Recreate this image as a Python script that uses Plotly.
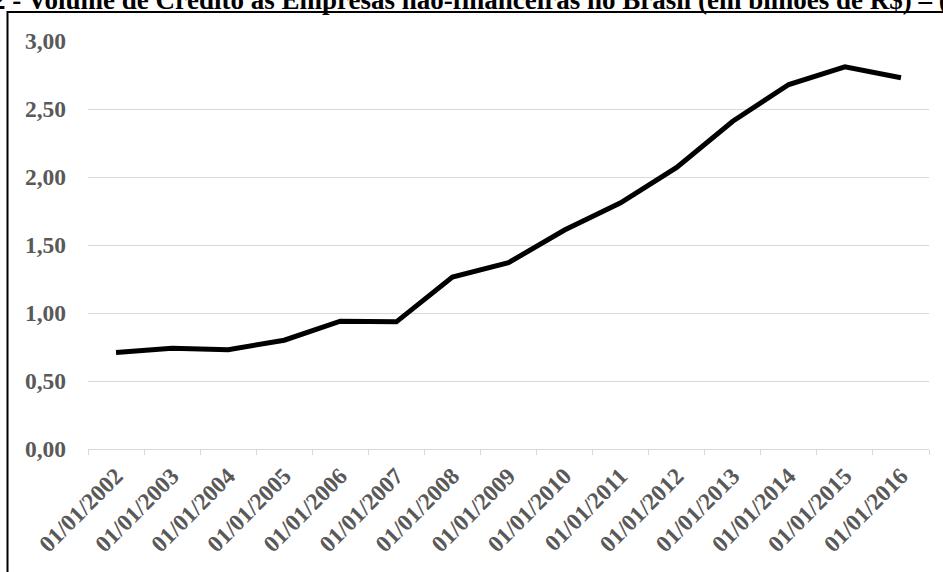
import plotly.graph_objects as go

categories = ["01/01/2002", "01/01/2003", "01/01/2004", "01/01/2005", "01/01/2006",
              "01/01/2007", "01/01/2008", "01/01/2009", "01/01/2010", "01/01/2011",
              "01/01/2012", "01/01/2013", "01/01/2014", "01/01/2015", "01/01/2016"]
values = [0.71, 0.74, 0.73, 0.80, 0.94, 0.935, 1.265, 1.37, 1.61, 1.81,
          2.07, 2.41, 2.68, 2.81, 2.73]
y_ticks = [0, 0.5, 1.0, 1.5, 2.0, 2.5, 3.0]
title_text = "2 - Volume de Crédito às Empresas não-financeiras no Brasil (em bilhões de R$) – (2002-2016)"

W, H = 943, 572
ML, MR, MT, MB = 88, 14, 41, 123
PW = W - ML - MR
PH = H - MT - MB

def px_x(px):
    return (px - ML) / PW

def px_y(py):
    return (H - MB - py) / PH

fig = go.Figure()
fig.add_trace(go.Scatter(
    x=categories, y=values, mode="lines",
    line=dict(color="black", width=5),
    showlegend=False, hoverinfo="skip"))

font_family = "Liberation Serif, Times New Roman, serif"

fig.update_layout(
    width=W, height=H,
    margin=dict(l=ML, r=MR, t=MT, b=MB, pad=0),
    paper_bgcolor="white", plot_bgcolor="white",
    separators=",.",
    font=dict(family=font_family, color="#595959"),
    xaxis=dict(
        type="category", showgrid=False, tickson="boundaries",
        ticks="outside", ticklen=5, tickcolor="#d9d9d9", tickwidth=1,
        showline=True, linecolor="#d9d9d9", linewidth=1,
        tickangle=-45,
        ticklabelstandoff=3,
        tickfont=dict(family=font_family, size=23.5, color="#595959", weight="bold"),
        range=[-0.5, 14.5],
    ),
    yaxis=dict(
        range=[0, 3.0], tickvals=y_ticks, tickformat=".2f",
        showgrid=True, gridcolor="#d9d9d9", gridwidth=1,
        zeroline=False, showline=False, ticks="",
        ticklabelstandoff=21,
        tickfont=dict(family=font_family, size=23.5, color="#595959", weight="bold"),
    ),
    shapes=[dict(type="rect", xref="paper", yref="paper",
                 x0=px_x(7.5), x1=px_x(990), y0=px_y(12), y1=px_y(640),
                 line=dict(color="black", width=2), fillcolor="rgba(0,0,0,0)")],
    annotations=[dict(text=title_text, xref="paper", yref="paper",
                      x=px_x(-10), y=px_y(17), xanchor="left", yanchor="bottom",
                      showarrow=False,
                      font=dict(family=font_family, size=27, color="black", weight="bold"))],
)

fig.write_html("out.html")
